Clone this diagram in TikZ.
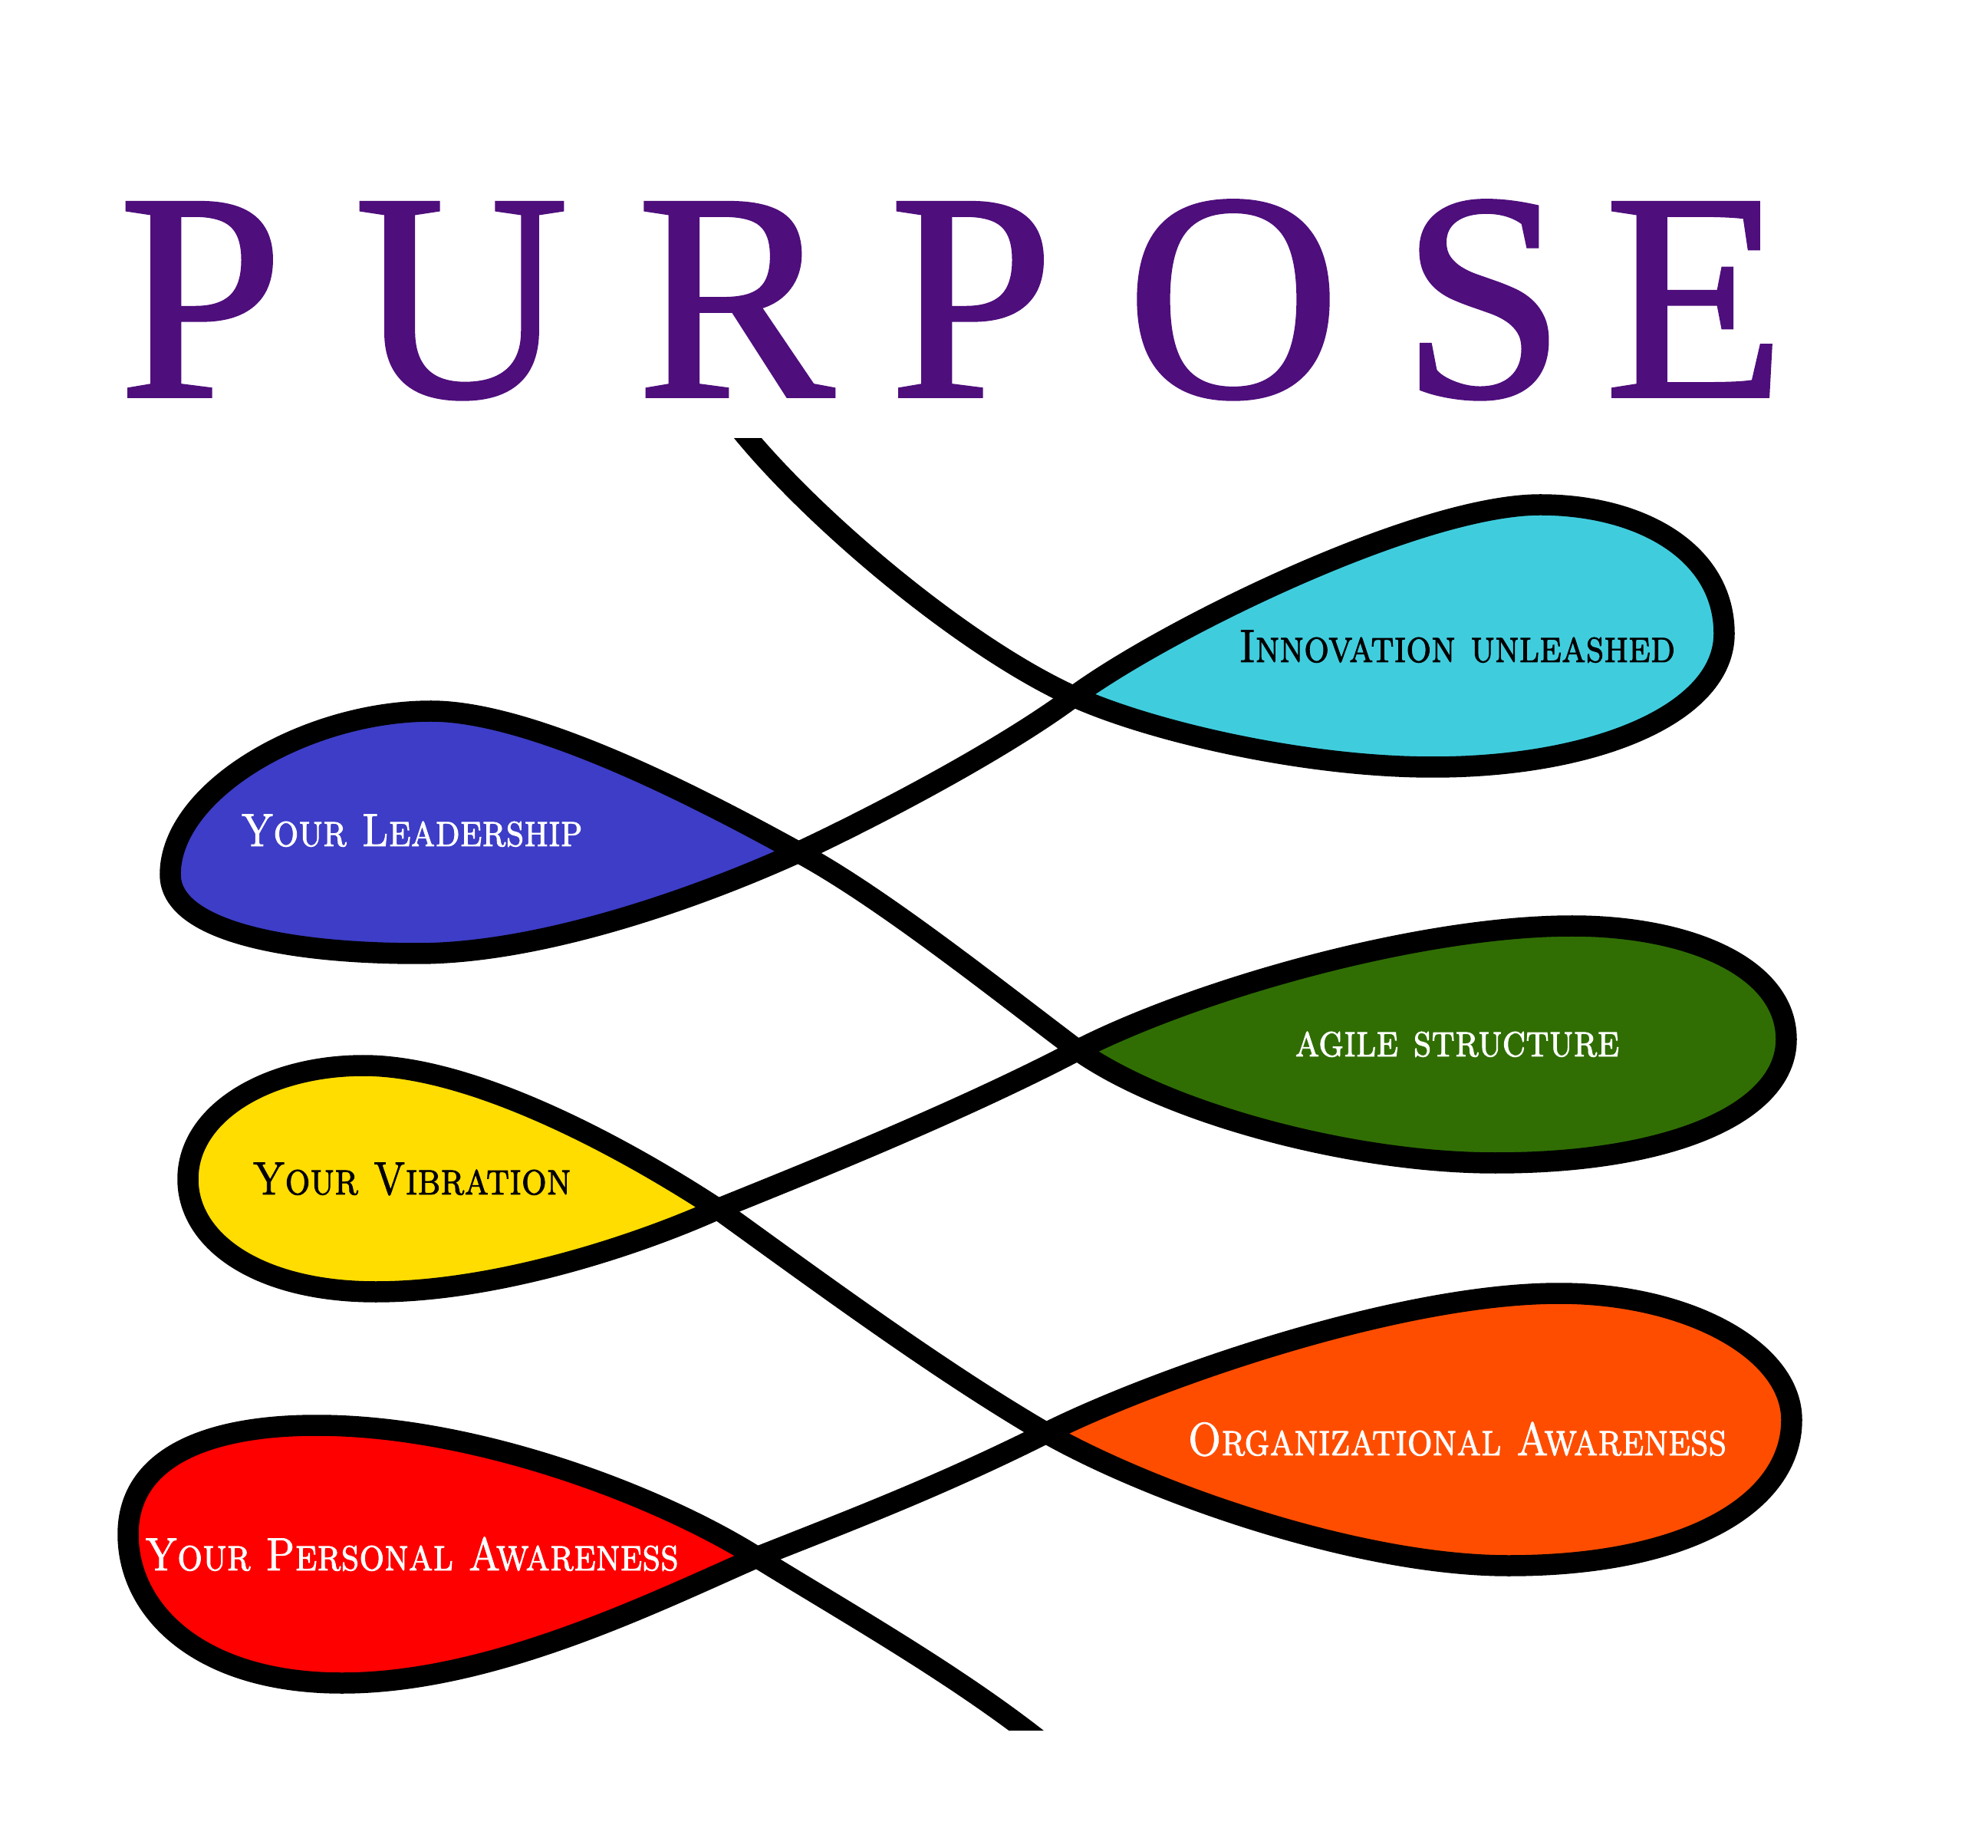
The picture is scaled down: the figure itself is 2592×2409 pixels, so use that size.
\documentclass[tikz,border=0pt]{standalone}
\usepackage{fontspec}
\usetikzlibrary{calc}
\newfontfamily\titlefont{Liberation Serif}[FakeBold=1]
\newfontfamily\labelfont{lmromancaps10-regular.otf}[FakeBold=1.5, FakeStretch=0.85]
\definecolor{cPurple}{RGB}{78,14,124}
\definecolor{cCyan}{RGB}{63,205,222}
\definecolor{cBlue}{RGB}{61,61,200}
\definecolor{cGreen}{RGB}{48,110,4}
\definecolor{cYellow}{RGB}{255,221,0}
\definecolor{cOrange}{RGB}{255,77,0}
\definecolor{cRed}{RGB}{255,0,0}

\begin{document}
\begin{tikzpicture}[x=0.1mm, y=-0.1mm,
    band/.style={line width=2.75mm, draw=black},
    lbl/.style={anchor=base, inner sep=0pt, font=\labelfont\fontsize{17.3}{17.3}\selectfont},
    letter/.style={anchor=base, inner sep=0pt, font=\titlefont\fontsize{110}{110}\selectfont}]
  \useasboundingbox[fill=white] (0,0) rectangle (2592,2409);
  % title
  \foreach \ch/\xx in {P/262, U/602, R/959, P/1267, O/1608, S/1934, E/2210}
    \node[letter, text=cPurple] (t\xx) at (\xx,517) {\ch};
  % crossings
  \coordinate (S)  at (950,540);
  \coordinate (C1) at (1400,908);
  \coordinate (C2) at (1041,1111);
  \coordinate (C3) at (1405,1369);
  \coordinate (C4) at (936,1576);
  \coordinate (C5) at (1364,1868);
  \coordinate (C6) at (987,2030);
  \coordinate (E)  at (1375,2285);
  % loops
  \filldraw[band, fill=cCyan] (C1) .. controls (1500,953) and (1700,1000) .. (1868,1000)
    .. controls (2080,1000) and (2248,930) .. (2248,826)
    .. controls (2248,720) and (2140,658) .. (2008,658)
    .. controls (1850,658) and (1520,820) .. (C1);
  \filldraw[band, fill=cBlue] (C2) .. controls (900,1175) and (700,1243) .. (545,1243)
    .. controls (380,1243) and (222,1215) .. (222,1140)
    .. controls (222,1030) and (400,927) .. (562,927)
    .. controls (700,927) and (930,1050) .. (C2);
  \filldraw[band, fill=cGreen] (C3) .. controls (1520,1450) and (1760,1516) .. (1950,1516)
    .. controls (2180,1516) and (2329,1450) .. (2329,1355)
    .. controls (2329,1260) and (2200,1207) .. (2050,1207)
    .. controls (1850,1207) and (1560,1290) .. (C3);
  \filldraw[band, fill=cYellow] (C4) .. controls (820,1628) and (640,1684) .. (490,1684)
    .. controls (340,1684) and (245,1620) .. (245,1537)
    .. controls (245,1450) and (350,1389) .. (474,1389)
    .. controls (620,1389) and (820,1500) .. (C4);
  \filldraw[band, fill=cOrange] (C5) .. controls (1500,1945) and (1770,2041) .. (1967,2041)
    .. controls (2200,2041) and (2336,1960) .. (2336,1851)
    .. controls (2336,1760) and (2200,1686) .. (2033,1686)
    .. controls (1820,1686) and (1500,1800) .. (C5);
  \filldraw[band, fill=cRed] (C6) .. controls (850,2090) and (640,2194) .. (446,2194)
    .. controls (260,2194) and (167,2100) .. (167,2000)
    .. controls (167,1900) and (270,1858) .. (413,1858)
    .. controls (620,1858) and (860,1950) .. (C6);
  % links between loops
  \draw[band] (C1) .. controls (1310,975) and (1150,1060) .. (C2);
  \draw[band] (C2) .. controls (1150,1170) and (1300,1290) .. (C3);
  \draw[band] (C3) .. controls (1250,1450) and (1050,1530) .. (C4);
  \draw[band] (C4) .. controls (1080,1680) and (1230,1790) .. (C5);
  \draw[band] (C5) .. controls (1220,1940) and (1100,1985) .. (C6);
  \begin{scope}
    \clip (0,572) rectangle (2592,2255);
    \draw[band] (S) .. controls (1040,660) and (1250,840) .. (C1);
    \draw[band] (C6) .. controls (1100,2100) and (1260,2190) .. (E);
  \end{scope}
  % labels
  \node[lbl, text=black] (innov) at (1900,863)  {Innovation unleashed};
  \node[lbl, text=white] (lead)  at (537,1103)  {Your Leadership};
  \node[lbl, text=white] (agile) at (1900,1377) {agile structure};
  \node[lbl, text=black] (vibr)  at (537,1557)  {Your Vibration};
  \node[lbl, text=white] (orga)  at (1900,1897) {Organizational Awareness};
  \node[lbl, text=white] (pers)  at (537,2047)  {Your Personal Awareness};
\end{tikzpicture}
\end{document}
